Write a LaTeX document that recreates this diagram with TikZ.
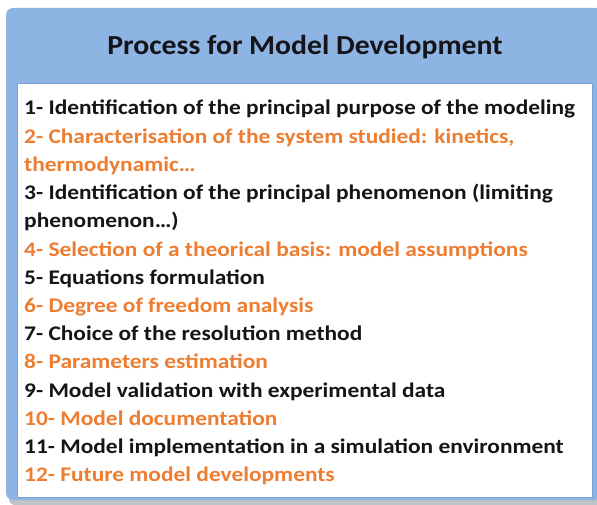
\documentclass[tikz,border=0pt]{standalone}
\usepackage{fontspec}
\setmainfont{Carlito}
\newfontfamily\itemfont[FakeStretch=1.125]{Carlito}
\newfontfamily\titlefont[FakeStretch=1.08]{Carlito}
\definecolor{boxblue}{RGB}{141,180,226}
\definecolor{edgeblue}{RGB}{120,160,210}
\definecolor{itemorange}{RGB}{237,125,49}
\definecolor{itemblack}{RGB}{20,20,25}
\definecolor{shadowgrey}{RGB}{190,195,200}
\begin{document}
\begin{tikzpicture}[x=1pt,y=-1pt,
  itemtext/.style={anchor=base west,inner sep=0pt,font=\itemfont\fontsize{20.8}{24}\selectfont\bfseries},
  blk/.style={itemtext,text=itemblack},
  org/.style={itemtext,text=itemorange}]
\useasboundingbox (0,0) rectangle (597,505);
\fill[white] (0,0) rectangle (597,505);
\fill[shadowgrey,rounded corners=6pt] (9,12) rectangle (603,505);
\fill[boxblue,rounded corners=7pt] (6,8) rectangle (603,500);
\fill[white,draw=edgeblue,line width=0.6pt] (17,83) rectangle (592,497);
\node[anchor=base,inner sep=0pt,text=itemblack,font=\titlefont\fontsize{27.5}{30}\selectfont\bfseries] (title) at (305,55) {Process for Model Development};
\node[blk] (l1) at (24,115) {1- Identification of the principal purpose of the modeling};
\node[org] (l2) at (24,143.2) {2- Characterisation of the system studied: kinetics,};
\node[org] (l2b) at (24,171.4) {thermodynamic…};
\node[blk] (l3) at (24,199.6) {3- Identification of the principal phenomenon (limiting};
\node[blk] (l3b) at (24,227.8) {phenomenon…)};
\node[org] (l4) at (24,256) {4- Selection of a theorical basis: model assumptions};
\node[blk] (l5) at (24,284.2) {5- Equations formulation};
\node[org] (l6) at (24,312.4) {6- Degree of freedom analysis};
\node[blk] (l7) at (24,340.6) {7- Choice of the resolution method};
\node[org] (l8) at (24,368.8) {8- Parameters estimation};
\node[blk] (l9) at (24,397) {9- Model validation with experimental data};
\node[org] (l10) at (24,425.2) {10- Model documentation};
\node[blk] (l11) at (24,453.4) {11- Model implementation in a simulation environment};
\node[org] (l12) at (24,481.6) {12- Future model developments};
\end{tikzpicture}
\end{document}
